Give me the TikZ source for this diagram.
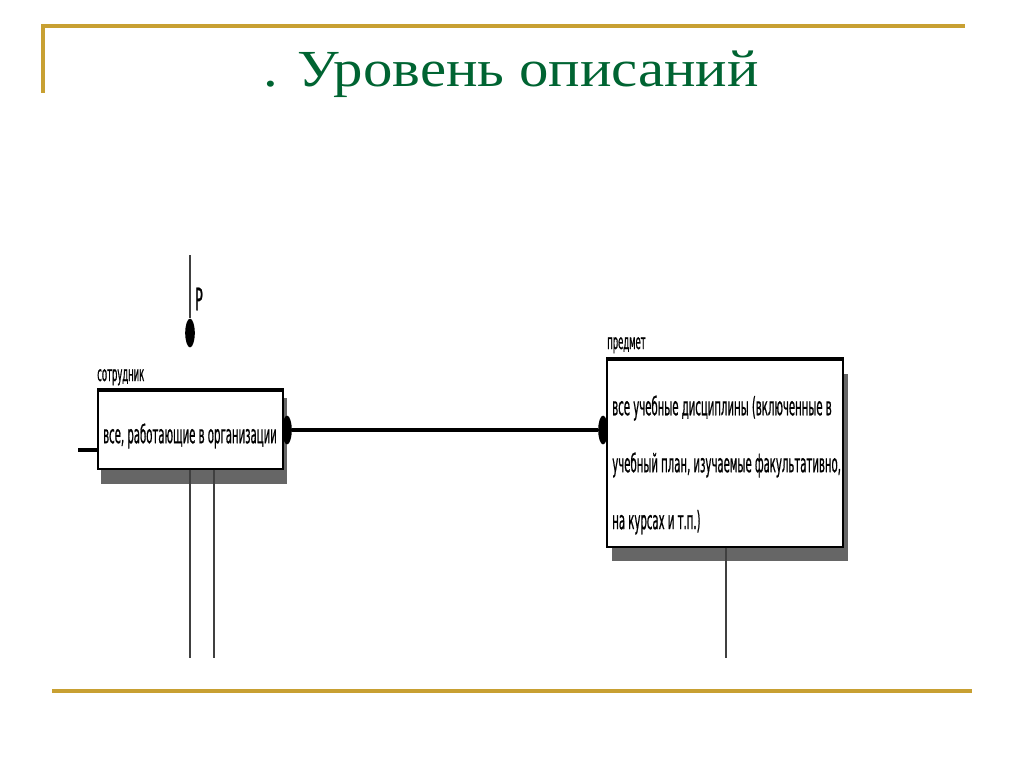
\documentclass[tikz,border=0pt]{standalone}
\usepackage{fontspec}
\setmainfont{Liberation Serif}
\newfontfamily\titlefont[FakeStretch=1.13]{Liberation Serif}
\newfontfamily\erfont[FakeStretch=0.40,FakeBold=0.6]{DejaVu Sans}
\usetikzlibrary{shapes.geometric}

\tikzset{
    entbox/.style={draw, line width=1pt, fill=white, inner sep=0pt},
    entlabel/.style={anchor=base west, inner sep=0pt, font=\erfont\fontsize{15}{17}\selectfont},
    dot/.style={ellipse, fill=black, inner sep=0pt, minimum width=0.24cm, minimum height=0.72cm},
    link/.style={line width=2.6pt},
    thinlink/.style={line width=0.8pt, black!75},
    rule/.style={line width=2.2pt, slidegold}
}

\begin{document}
\begin{tikzpicture}[x=0.025cm, y=-0.025cm]
        % -- colour definitions --------------------------------------------------
        \definecolor{slidegold}{RGB}{200,160,50}
        \definecolor{titlegreen}{RGB}{0,100,50}

        % -- page frame ----------------------------------------------------------
        \useasboundingbox (0,0) rectangle (1024,768);
        \draw[rule] (43,93) -- (43,26) -- (965,26);
        \draw[rule] (52,691) -- (972,691);

        % -- title ---------------------------------------------------------------
        \node[titlegreen, anchor=base, inner sep=0pt,
              font=\titlefont\fontsize{37}{40}\selectfont] (title) at (511,87)
            {. Уровень описаний};

        % -- entity shadows ------------------------------------------------------
        \fill[black!60] (101,470) rectangle (287,484);
        \fill[black!60] (283,398) rectangle (287,484);
        \fill[black!60] (612,548) rectangle (848,561);
        \fill[black!60] (843,374) rectangle (848,561);

        % -- entity: сотрудник ---------------------------------------------------
        \node[entbox, minimum width=4.625cm, minimum height=1.95cm] (emp) at (190.5,430) {};
        \draw[line width=2.8pt] (emp.north west) -- (emp.north east);
        \node[anchor=center, inner sep=0pt, font=\erfont\fontsize{18}{40}\selectfont]
            (emptext) at (190,436) {все, работающие в организации};
        \node[entlabel] (emplabel) at (97,381) {сотрудник};

        % -- entity: предмет -----------------------------------------------------
        \node[entbox, minimum width=5.9cm, minimum height=4.675cm] (subj) at (725,453.5) {};
        \draw[line width=2.8pt] (subj.north west) -- (subj.north east);
        \node[anchor=west, inner sep=0pt, align=left,
              font=\erfont\fontsize{18}{40.5}\selectfont] (subjtext) at (612,465)
            {все учебные дисциплины (включенные в\\
             учебный план, изучаемые факультативно,\\
             на курсах и т.п.)};
        \node[entlabel] (subjlabel) at (607,349) {предмет};

        % -- relationship ends ---------------------------------------------------
        \node[dot] (empend) at (287,430) {};
        \node[dot] (subjend) at (603,430) {};
        \node[dot] (pend) at (190,333) {};
        \node[inner sep=0pt, font=\erfont\fontsize{22}{24}\selectfont] (plabel) at (199,299) {P};

        % -- free ends -----------------------------------------------------------
        \coordinate (ptop) at (190,255);
        \coordinate (instub) at (78,450);
        \coordinate (empdown1) at (190,658);
        \coordinate (empdown2) at (214,658);
        \coordinate (subjdown) at (726,658);

        % -- connectors ----------------------------------------------------------
        \draw[link] (empend) -- (subjend);
        \draw[link] (instub) -- (emp.west |- instub);
        \draw[thinlink] (ptop) -- (pend);
        \draw[thinlink] (emp.south -| empdown1) -- (empdown1);
        \draw[thinlink] (emp.south -| empdown2) -- (empdown2);
        \draw[thinlink] (subj.south -| subjdown) -- (subjdown);
    \end{tikzpicture}
\end{document}
